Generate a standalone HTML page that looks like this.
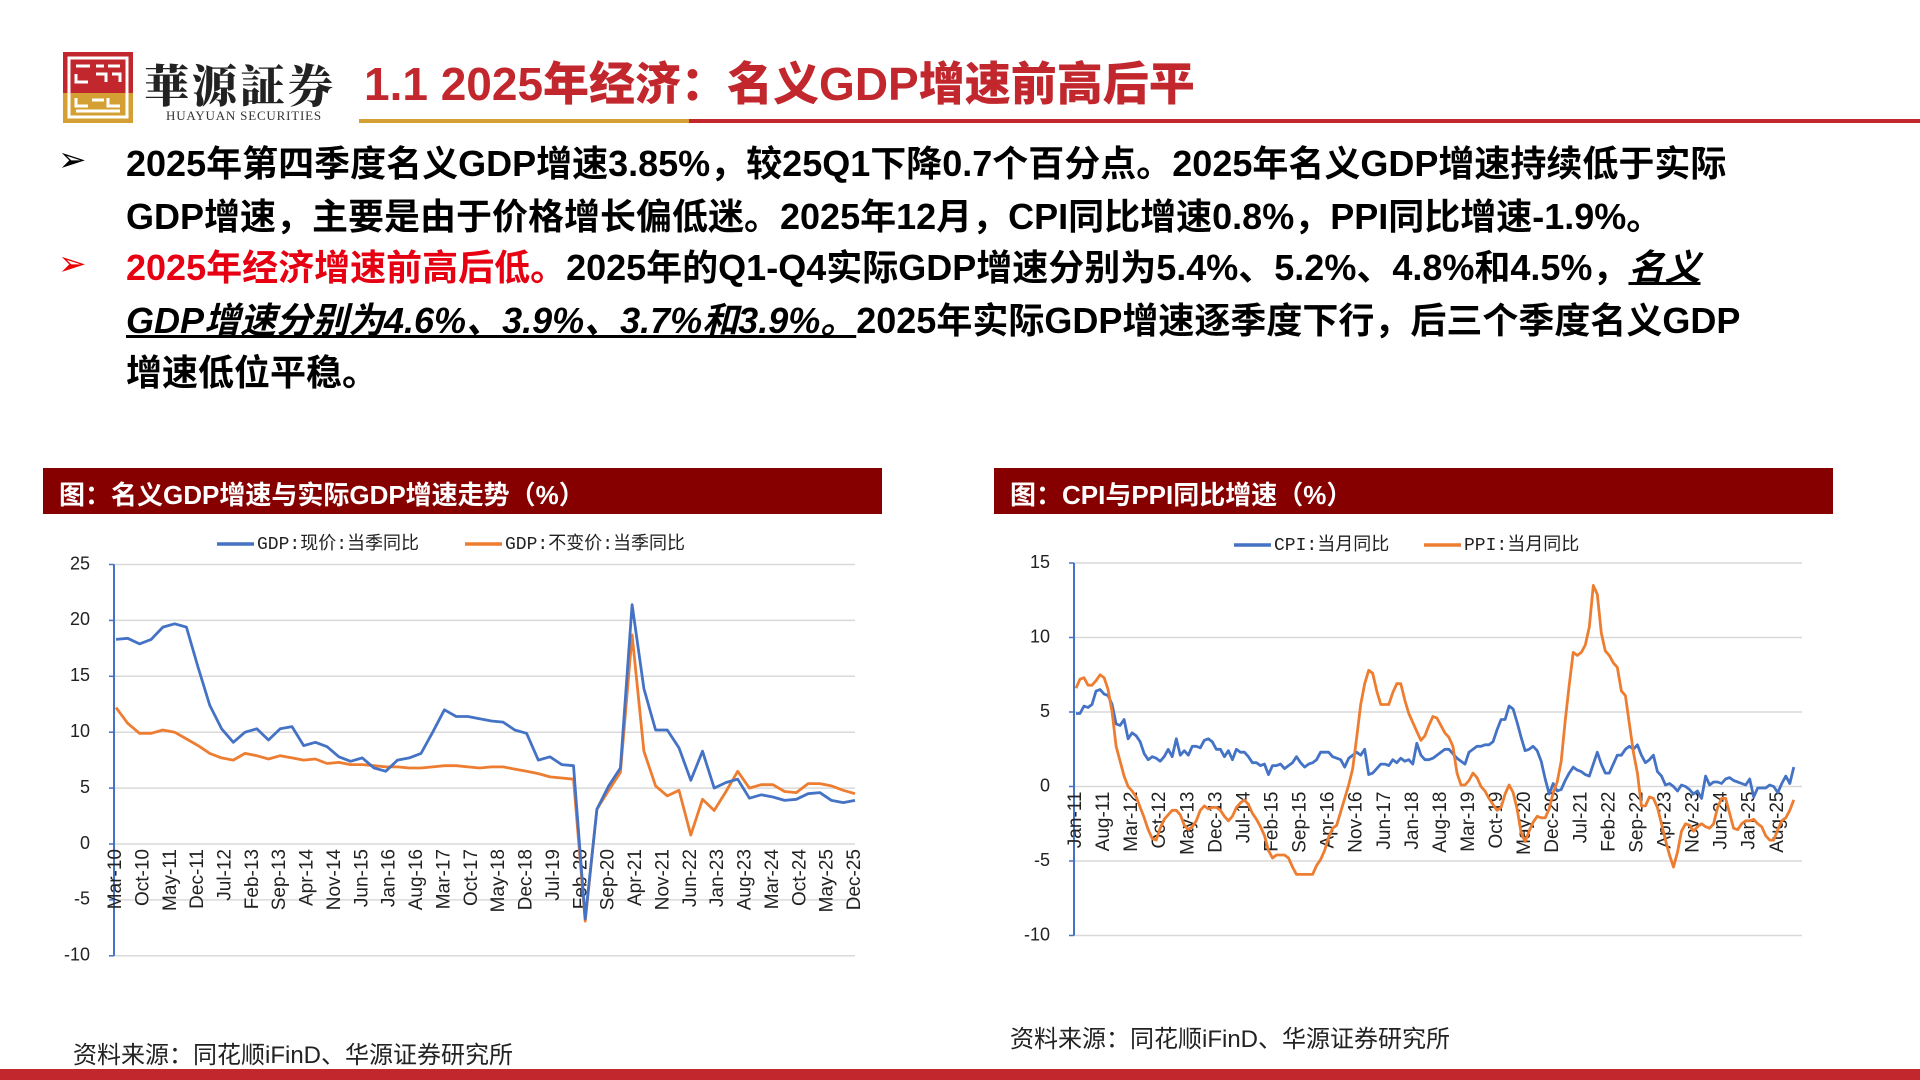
<!DOCTYPE html>
<html><head><meta charset="utf-8">
<style>
body{margin:0;background:#fff;}
#page{position:relative;width:1920px;height:1080px;overflow:hidden;background:#fff;font-family:"Liberation Sans","Noto Sans CJK SC",sans-serif;}
.abs{position:absolute;white-space:nowrap;}
.bl{font-size:36px;font-weight:bold;color:#000;left:126px;line-height:52px;}
.arrow{font-family:"DejaVu Sans",sans-serif;font-size:34px;left:58px;}
</style></head><body>
<div id="page">
<svg class="abs" style="left:0;top:0" width="1920" height="1080">
  <g>
    <rect x="63" y="52" width="70" height="41" fill="#c1272d"/>
    <rect x="63" y="93" width="70" height="30" fill="#d4a033"/>
    <rect x="69" y="58" width="58" height="59" fill="none" stroke="#fff" stroke-width="3"/>
    <path d="M76 66h14M96 66h8M108 66h12M76 74v8h12M96 74h10v8M112 74h8v8M76 98v8h12M92 100h12M108 98v8h12M76 111h44" stroke="#fff" stroke-width="3" fill="none"/>
  </g>
  <rect x="359" y="119" width="330" height="4" fill="#d4a033"/>
  <rect x="689" y="119" width="1231" height="4" fill="#c1272d"/>
  <rect x="0" y="1069" width="1920" height="11" fill="#c1272d"/>
</svg>
<div class="abs" style="left:144px;top:50px;font-family:'Noto Serif CJK SC',serif;font-weight:900;font-size:45px;color:#222;letter-spacing:3px">華源証券</div>
<div class="abs" style="left:166px;top:108px;font-family:'Liberation Serif',serif;font-size:13px;color:#333;letter-spacing:0.8px">HUAYUAN SECURITIES</div>
<div class="abs" style="left:364px;top:48px;font-family:'Liberation Sans','Noto Sans CJK SC',sans-serif;font-weight:900;font-size:46px;color:#c1272d">1.1 2025年经济：名义GDP增速前高后平</div>

<div class="abs arrow" style="top:140px">➢</div>
<div class="abs bl" style="top:138px">2025年第四季度名义GDP增速3.85%，较25Q1下降0.7个百分点。2025年名义GDP增速持续低于实际</div>
<div class="abs bl" style="top:191px">GDP增速，主要是由于价格增长偏低迷。2025年12月，CPI同比增速0.8%，PPI同比增速-1.9%。</div>
<div class="abs arrow" style="top:244px;color:#e00">➢</div>
<div class="abs bl" style="top:242px"><span style="color:#e60012">2025年经济增速前高后低。</span>2025年的Q1-Q4实际GDP增速分别为5.4%、5.2%、4.8%和4.5%，<i style="text-decoration:underline">名义</i></div>
<div class="abs bl" style="top:295px"><i style="text-decoration:underline">GDP增速分别为4.6%、3.9%、3.7%和3.9%。</i>2025年实际GDP增速逐季度下行，后三个季度名义GDP</div>
<div class="abs bl" style="top:347px">增速低位平稳。</div>

<div class="abs" style="left:43px;top:468px;width:839px;height:46px;background:#870000"></div>
<div class="abs" style="left:59px;top:475px;font-size:26px;font-weight:bold;color:#fff">图：名义GDP增速与实际GDP增速走势（%）</div>
<div class="abs" style="left:994px;top:468px;width:839px;height:46px;background:#870000"></div>
<div class="abs" style="left:1010px;top:475px;font-size:26px;font-weight:bold;color:#fff">图：CPI与PPI同比增速（%）</div>

<svg id="lc" class="abs" style="left:0;top:0" width="960" height="1080"></svg>
<svg id="rc" class="abs" style="left:0;top:0" width="1920" height="1080"></svg>

<div class="abs" style="left:73px;top:1035px;font-size:24px;color:#222">资料来源：同花顺iFinD、华源证券研究所</div>
<div class="abs" style="left:1010px;top:1019px;font-size:24px;color:#222">资料来源：同花顺iFinD、华源证券研究所</div>
</div>
<script>
const gdpXLabels=["Mar-10","Oct-10","May-11","Dec-11","Jul-12","Feb-13","Sep-13","Apr-14","Nov-14","Jun-15","Jan-16","Aug-16","Mar-17","Oct-17","May-18","Dec-18","Jul-19","Feb-20","Sep-20","Apr-21","Nov-21","Jun-22","Jan-23","Aug-23","Mar-24","Oct-24","May-25","Dec-25"];
const gdpYTicks=[25,20,15,10,5,0,-5,-10];
const gdpNominal=[18.3,18.4,17.9,18.3,19.4,19.7,19.4,15.8,12.4,10.3,9.1,10.0,10.3,9.3,10.3,10.5,8.8,9.1,8.7,7.8,7.4,7.7,6.8,6.5,7.5,7.7,8.1,10.0,12.0,11.4,11.4,11.2,11.0,10.9,10.2,9.9,7.5,7.8,7.1,7.0,-6.7,3.1,5.2,6.8,21.4,13.9,10.2,10.2,8.6,5.7,8.3,5.0,5.5,5.8,4.1,4.4,4.2,3.9,4.0,4.5,4.6,3.9,3.7,3.9];
const gdpReal=[12.2,10.8,9.9,9.9,10.2,10.0,9.4,8.8,8.1,7.7,7.5,8.1,7.9,7.6,7.9,7.7,7.5,7.6,7.2,7.3,7.1,7.1,7.0,6.9,6.9,6.8,6.8,6.9,7.0,7.0,6.9,6.8,6.9,6.9,6.7,6.5,6.3,6.0,5.9,5.8,-6.9,3.1,4.8,6.4,18.7,8.3,5.2,4.3,4.8,0.8,4.0,3.0,4.7,6.5,5.0,5.3,5.3,4.7,4.6,5.4,5.4,5.2,4.8,4.5];

const cpiXLabels=["Jan-11","Aug-11","Mar-12","Oct-12","May-13","Dec-13","Jul-14","Feb-15","Sep-15","Apr-16","Nov-16","Jun-17","Jan-18","Aug-18","Mar-19","Oct-19","May-20","Dec-20","Jul-21","Feb-22","Sep-22","Apr-23","Nov-23","Jun-24","Jan-25","Aug-25"];
const cpiYTicks=[15,10,5,0,-5,-10];
const cpiValues=[4.9,4.9,5.4,5.3,5.5,6.4,6.5,6.2,6.1,5.5,4.2,4.1,
4.5,3.2,3.6,3.4,3.0,2.2,1.8,2.0,1.9,1.7,2.0,2.5,
2.0,3.2,2.1,2.4,2.1,2.7,2.7,2.6,3.1,3.2,3.0,2.5,
2.5,2.0,2.4,1.8,2.5,2.3,2.3,2.0,1.6,1.6,1.4,1.5,
0.8,1.4,1.4,1.5,1.2,1.4,1.6,2.0,1.6,1.3,1.5,1.6,
1.8,2.3,2.3,2.3,2.0,1.9,1.8,1.3,1.9,2.1,2.3,2.1,
2.5,0.8,0.9,1.2,1.5,1.5,1.4,1.8,1.6,1.9,1.7,1.8,
1.5,2.9,2.1,1.8,1.8,1.9,2.1,2.3,2.5,2.5,2.2,1.9,
1.7,1.5,2.3,2.5,2.7,2.7,2.8,2.8,3.0,3.8,4.5,4.5,
5.4,5.2,4.3,3.3,2.4,2.5,2.7,2.4,1.7,0.5,-0.5,0.2,
-0.3,-0.2,0.4,0.9,1.3,1.1,1.0,0.8,0.7,1.5,2.3,1.5,
0.9,0.9,1.5,2.1,2.1,2.5,2.7,2.5,2.8,2.1,1.6,1.8,
2.1,1.0,0.7,0.1,0.2,0.0,-0.3,0.1,0.0,-0.2,-0.5,-0.3,
-0.8,0.7,0.1,0.3,0.3,0.2,0.5,0.6,0.4,0.3,0.2,0.1,
0.5,-0.7,-0.1,-0.1,-0.1,0.1,0.0,-0.4,0.2,0.7,0.2,1.3];
const ppiValues=[6.6,7.2,7.3,6.8,6.8,7.1,7.5,7.3,6.5,5.0,2.7,1.7,
0.7,0.0,-0.3,-0.7,-1.4,-2.1,-2.9,-3.5,-3.6,-2.8,-2.2,-1.9,
-1.6,-1.6,-1.9,-2.6,-2.9,-2.7,-2.3,-1.6,-1.3,-1.5,-1.4,-1.4,
-1.6,-2.0,-2.3,-2.0,-1.4,-1.1,-0.9,-1.2,-1.8,-2.2,-2.7,-3.3,
-4.3,-4.8,-4.6,-4.6,-4.6,-4.8,-5.4,-5.9,-5.9,-5.9,-5.9,-5.9,
-5.3,-4.9,-4.3,-3.4,-2.8,-2.6,-1.7,-0.8,0.1,1.2,3.3,5.5,
6.9,7.8,7.6,6.4,5.5,5.5,5.5,6.3,6.9,6.9,5.8,4.9,
4.3,3.7,3.1,3.4,4.1,4.7,4.6,4.1,3.6,3.3,2.7,0.9,
0.1,0.1,0.4,0.9,0.6,0.0,-0.3,-0.8,-1.2,-1.6,-1.4,-0.5,
0.1,-0.4,-1.5,-3.1,-3.7,-3.0,-2.4,-2.0,-2.1,-2.1,-1.5,-0.4,
0.3,1.7,4.4,6.8,9.0,8.8,9.0,9.5,10.7,13.5,12.9,10.3,
9.1,8.8,8.3,8.0,6.4,6.1,4.2,2.3,0.9,-1.3,-1.3,-0.7,
-0.8,-1.4,-2.5,-3.6,-4.6,-5.4,-4.4,-3.0,-2.5,-2.6,-3.0,-2.7,
-2.5,-2.7,-2.8,-2.5,-1.4,-0.8,-0.8,-1.8,-2.8,-2.9,-2.5,-2.3,
-2.3,-2.2,-2.5,-2.7,-3.3,-3.6,-3.6,-2.9,-2.3,-2.1,-1.6,-0.9];

const NS="http://www.w3.org/2000/svg";
function mk(parent,tag,attrs){const e=document.createElementNS(NS,tag);for(const k in attrs)e.setAttribute(k,attrs[k]);parent.appendChild(e);return e;}

function drawChart(svg,cfg){
  const xs=i=>cfg.x0+i*cfg.dx;
  const ys=v=>cfg.yZero-v*cfg.perUnit;
  cfg.yTicks.forEach(t=>{
    const g=mk(svg,'line',{x1:cfg.axisX,x2:cfg.xEnd,y1:ys(t),y2:ys(t),stroke:'#d9d9d9','stroke-width':1.5});
    
    
    const tk=mk(svg,'line',{x1:cfg.axisX-5,x2:cfg.axisX,y1:ys(t),y2:ys(t),stroke:'#4472c4','stroke-width':1.5});
    
    
    const tx=mk(svg,'text',{x:cfg.labelRight,y:ys(t),'text-anchor':'end','dominant-baseline':'middle','font-size':18,fill:'#222','font-family':'Liberation Sans, sans-serif'});
    tx.textContent=t;
    
    
  });
  const ax=mk(svg,'line',{x1:cfg.axisX,x2:cfg.axisX,y1:ys(cfg.yTicks[0]),y2:ys(cfg.yTicks[cfg.yTicks.length-1]),stroke:'#4472c4','stroke-width':2});
  
  
  cfg.xLabels.forEach((l,i)=>{
    const x=xs(i*cfg.labelStep);
    const t=mk(svg,'text',{transform:`translate(${x},${cfg.yZero+5}) rotate(-90)`,'text-anchor':'end','dominant-baseline':'middle','font-size':cfg.xFont,fill:'#222','font-family':'Liberation Sans, sans-serif'});
    t.textContent=l;
    
    
  });
  cfg.series.forEach(s=>{
    const d=s.values.map((v,i)=>(i?'L':'M')+xs(i*cfg.step).toFixed(1)+' '+ys(v).toFixed(1)).join(' ');
    const p=mk(svg,'path',{d:d,fill:'none',stroke:s.color,'stroke-width':2.8,'stroke-linejoin':'round'});
    
    
  });
  cfg.legend.forEach(lg=>{
    const l=mk(svg,'line',{x1:lg.x,x2:lg.x+37,y1:cfg.legendY,y2:cfg.legendY,stroke:lg.color,'stroke-width':3.5});
    
    
    const t=mk(svg,'text',{x:lg.x+40,y:cfg.legendY,'dominant-baseline':'middle','font-size':18,fill:'#222','font-family':'Liberation Mono, Noto Sans CJK SC, monospace'});
    t.textContent=lg.text;
    
    
  });
}
drawChart(document.getElementById('lc'),{
  x0:116,dx:(855-116)/189,step:3,labelStep:7,axisX:114,xEnd:855,yZero:844,perUnit:11.18,labelRight:90,xFont:19,
  yTicks:gdpYTicks,xLabels:gdpXLabels,legendY:544,
  series:[{values:gdpReal,color:'#ed7d31',name:'real-gdp-line'},{values:gdpNominal,color:'#4472c4',name:'nominal-gdp-line'}],
  legend:[{x:217,color:'#4472c4',text:'GDP:现价:当季同比'},{x:465,color:'#ed7d31',text:'GDP:不变价:当季同比'}]
});
drawChart(document.getElementById('rc'),{
  x0:1076,dx:4.01,step:1,labelStep:7,axisX:1074,xEnd:1802,yZero:786.5,perUnit:14.9,labelRight:1050,xFont:19,
  yTicks:cpiYTicks,xLabels:cpiXLabels,legendY:545,
  series:[{values:cpiValues,color:'#4472c4',name:'cpi-line'},{values:ppiValues,color:'#ed7d31',name:'ppi-line'}],
  legend:[{x:1234,color:'#4472c4',text:'CPI:当月同比'},{x:1424,color:'#ed7d31',text:'PPI:当月同比'}]
});
</script>
</body></html>
